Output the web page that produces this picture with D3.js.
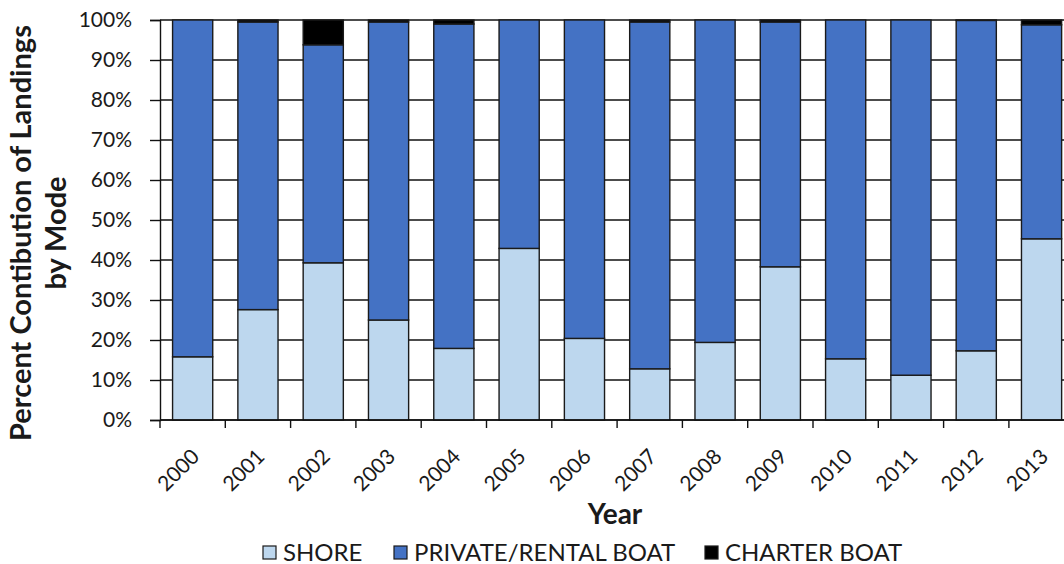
<!DOCTYPE html>
<html>
<head>
<meta charset="utf-8">
<script src="https://cdn.jsdelivr.net/npm/d3@7"></script>
<style>
  html, body { margin: 0; padding: 0; background: #fff; }
  svg { display: block; }
  text { font-family: Lato, "Open Sans", sans-serif; fill: #1a1a1a; }
</style>
</head>
<body>
<svg id="chart" width="1064" height="564"></svg>
<script>
const years = ["2000","2001","2002","2003","2004","2005","2006","2007","2008","2009","2010","2011","2012","2013"];
const shore   = [15.8, 27.6, 39.3, 25.0, 17.9, 42.9, 20.4, 12.8, 19.4, 38.3, 15.3, 11.2, 17.3, 45.3];
const charter = [0.0, 0.5, 6.2, 0.5, 1.0, 0.0, 0.0, 0.5, 0.0, 0.5, 0.0, 0.0, 0.1, 1.2];
const privateBoat = shore.map((s, i) => +(100 - s - charter[i]).toFixed(1));
const yTicks = [0, 10, 20, 30, 40, 50, 60, 70, 80, 90, 100];
const seriesNames = ["SHORE", "PRIVATE/RENTAL BOAT", "CHARTER BOAT"];
const seriesKeys = ["shore", "private", "charter"];
const colors = ["#BDD7EE", "#4472C4", "#000000"];

const rows = years.map((y, i) => ({ year: y, shore: shore[i], private: privateBoat[i], charter: charter[i] }));

const svg = d3.select("#chart");
const mLeft = 160, mTop = 20, mBottom = 420, step = 65.3;
const x = d3.scaleBand().domain(years).range([mLeft, mLeft + step * years.length]).paddingInner(0.385).paddingOuter(0.1925);
const y = d3.scaleLinear().domain([0, 100]).range([mBottom, mTop]);

// gridlines
svg.append("g").selectAll("line").data(yTicks).join("line")
  .attr("x1", mLeft).attr("x2", 1064)
  .attr("y1", d => y(d)).attr("y2", d => y(d))
  .attr("stroke", "#111").attr("stroke-width", 1.4);

// stacked bars
const stack = d3.stack().keys(seriesKeys)(rows);
svg.append("g").selectAll("g").data(stack).join("g")
  .attr("fill", (d, i) => colors[i])
  .selectAll("rect").data(d => d.filter(p => p[1] - p[0] > 0)).join("rect")
  .attr("x", d => x(d.data.year))
  .attr("width", x.bandwidth())
  .attr("y", d => y(d[1]))
  .attr("height", d => y(d[0]) - y(d[1]))
  .attr("stroke", "#1a1a1a").attr("stroke-width", 1.4);

// y axis
const yAxis = svg.append("g").attr("transform", `translate(${mLeft},0)`)
  .call(d3.axisLeft(y).tickValues(yTicks).tickFormat(d => d + "%").tickSize(10).tickPadding(18));
yAxis.select(".domain").attr("stroke", "#111").attr("stroke-width", 1.4);
yAxis.selectAll(".tick line").attr("stroke", "#111").attr("stroke-width", 1.4);
yAxis.selectAll("text").attr("font-size", 21).attr("fill", "#1a1a1a").style("font-family", "Lato, sans-serif");

// x axis (ticks at band boundaries)
const xAxisG = svg.append("g");
xAxisG.append("line").attr("x1", mLeft).attr("x2", 1064).attr("y1", mBottom).attr("y2", mBottom)
  .attr("stroke", "#111").attr("stroke-width", 1.4);
const boundaries = years.map((yr, i) => x(yr) - x.step() * x.paddingInner() / 2);
xAxisG.selectAll(".xt").data(boundaries).join("line")
  .attr("x1", d => d).attr("x2", d => d).attr("y1", mBottom).attr("y2", mBottom + 8)
  .attr("stroke", "#111").attr("stroke-width", 1.4);
xAxisG.selectAll(".xl").data(years).join("text")
  .attr("transform", d => `translate(${x(d) + x.bandwidth() / 2 + 8},${mBottom + 38}) rotate(-45)`)
  .attr("text-anchor", "end")
  .attr("font-size", 21)
  .text(d => d);

// axis titles
svg.append("text").attr("x", 615).attr("y", 524).attr("text-anchor", "middle")
  .attr("font-size", 28).attr("font-weight", "bold").text("Year");
const yt = svg.append("text").attr("transform", "translate(0,233) rotate(-90)")
  .attr("text-anchor", "middle").attr("font-size", 29).attr("font-weight", "bold");
yt.append("tspan").attr("x", 0).attr("y", 31).text("Percent Contibution of Landings");
yt.append("tspan").attr("x", 0).attr("y", 66).text("by Mode");

// legend
const legendX = [263, 394, 705];
const lg = svg.append("g").selectAll("g").data(seriesNames).join("g")
  .attr("transform", (d, i) => `translate(${legendX[i]},546)`);
lg.append("rect").attr("width", 13).attr("height", 13)
  .attr("fill", (d, i) => colors[i]).attr("stroke", "#1a1a1a").attr("stroke-width", 1.2);
lg.append("text").attr("x", 20).attr("y", 14.5).attr("font-size", 24).text(d => d);
</script>
</body>
</html>
